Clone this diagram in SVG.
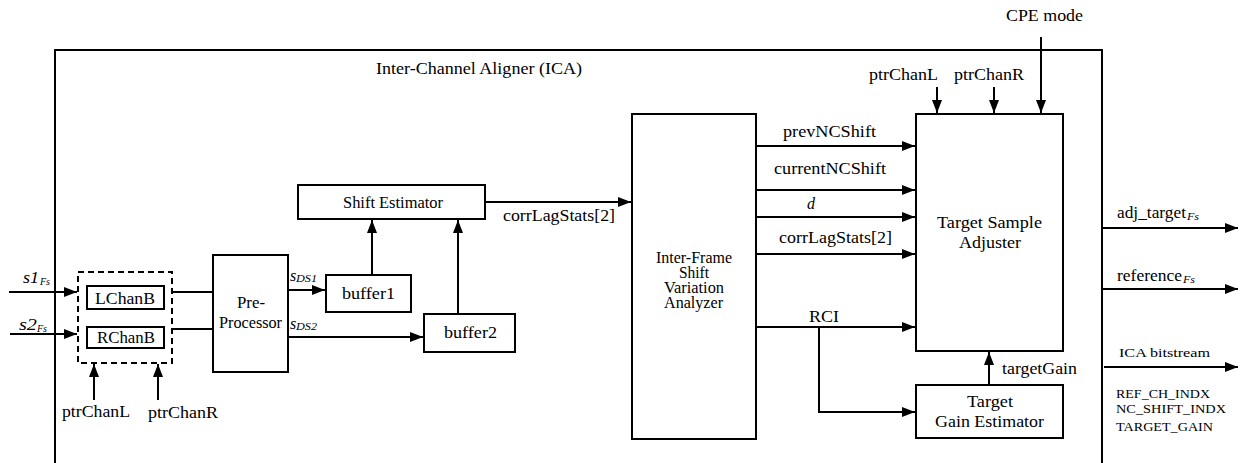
<svg xmlns="http://www.w3.org/2000/svg" width="1242" height="463" viewBox="0 0 1242 463">
<style>
text{font-family:'Liberation Serif','Times New Roman',serif;font-size:16px;fill:#000}
.sm{font-size:12px}
.box{fill:#fff;stroke:#000;stroke-width:2}
.ln{fill:none;stroke:#000;stroke-width:2}
.ar{fill:none;stroke:#000;stroke-width:2;marker-end:url(#ah)}
.it{font-style:italic}
.sub{font-size:10px;font-style:italic}
</style>
<defs>
<marker id="ah" viewBox="0 0 13 10" refX="13" refY="5" markerWidth="13" markerHeight="10" markerUnits="userSpaceOnUse" orient="auto">
<path d="M0,0 L13,5 L0,10 Z" fill="#000"/>
</marker>
</defs>
<rect width="1242" height="463" fill="#fff"/>
<g id="ica">
<path class="ln" d="M55,463 V50 H1102 V463"/>
<text x="376" y="74" textLength="206" lengthAdjust="spacingAndGlyphs">Inter-Channel Aligner (ICA)</text>
</g>
<g id="chanb">
<rect x="78" y="272" width="94" height="91" fill="none" stroke="#000" stroke-width="2" stroke-dasharray="6,4"/>
</g>
<g id="lchanb"><rect class="box" x="87" y="286" width="77" height="23"/><text x="95" y="304" font-size="17" textLength="60" lengthAdjust="spacingAndGlyphs">LChanB</text></g>
<g id="rchanb"><rect class="box" x="87" y="327" width="77" height="21"/><text x="97" y="343" font-size="17" textLength="58" lengthAdjust="spacingAndGlyphs">RChanB</text></g>
<g id="pre"><rect class="box" x="213" y="255" width="75" height="117"/><text x="237" y="308" textLength="28" lengthAdjust="spacingAndGlyphs">Pre-</text><text x="219" y="328" textLength="63" lengthAdjust="spacingAndGlyphs">Processor</text></g>
<g id="shift"><rect class="box" x="298" y="185" width="187" height="34"/><text x="343" y="208" textLength="100" lengthAdjust="spacingAndGlyphs">Shift Estimator</text></g>
<g id="buffer1"><rect class="box" x="326" y="275" width="85" height="37"/><text x="342" y="299" font-size="17" textLength="53" lengthAdjust="spacingAndGlyphs">buffer1</text></g>
<g id="buffer2"><rect class="box" x="424" y="314" width="91" height="38"/><text x="444" y="338" font-size="17" textLength="53" lengthAdjust="spacingAndGlyphs">buffer2</text></g>
<g id="isva"><rect class="box" x="632" y="114" width="124" height="325"/>
<text x="656" y="263" font-size="15" textLength="76" lengthAdjust="spacingAndGlyphs">Inter-Frame</text>
<text x="679" y="278" font-size="15" textLength="30" lengthAdjust="spacingAndGlyphs">Shift</text>
<text x="664" y="293" font-size="15" textLength="60" lengthAdjust="spacingAndGlyphs">Variation</text>
<text x="664" y="308" font-size="15" textLength="59" lengthAdjust="spacingAndGlyphs">Analyzer</text></g>
<g id="tsa"><rect class="box" x="916" y="114" width="147" height="237"/><text x="937" y="228" font-size="17" textLength="105" lengthAdjust="spacingAndGlyphs">Target Sample</text><text x="959" y="248" font-size="17" textLength="62" lengthAdjust="spacingAndGlyphs">Adjuster</text></g>
<g id="tge"><rect class="box" x="916" y="385" width="147" height="53"/><text x="967" y="407" font-size="17" textLength="46" lengthAdjust="spacingAndGlyphs">Target</text><text x="935" y="427" font-size="17" textLength="109" lengthAdjust="spacingAndGlyphs">Gain Estimator</text></g>
<g id="connectors">
<path class="ar" d="M9,292 H77"/>
<path class="ar" d="M10,334 H77"/>
<path class="ln" d="M172,292 H213 M172,329 H213"/>
<path class="ar" d="M94,400 V364"/>
<path class="ar" d="M158,400 V364"/>
<path class="ar" d="M288,290 H325"/>
<path class="ar" d="M288,337 H423"/>
<path class="ar" d="M372,275 V220"/>
<path class="ar" d="M458,314 V220"/>
<path class="ar" d="M485,202 H631"/>
<path class="ar" d="M756,146 H915"/>
<path class="ar" d="M756,190 H915"/>
<path class="ar" d="M756,217 H915"/>
<path class="ar" d="M756,254 H915"/>
<path class="ar" d="M756,327 H915"/>
<path class="ar" d="M819,327 V412 H915"/>
<path class="ar" d="M937,87 V113"/>
<path class="ar" d="M994,87 V113"/>
<path class="ar" d="M1041,37 V113"/>
<path class="ar" d="M989,385 V352"/>
<path class="ar" d="M1102,228 H1238"/>
<path class="ar" d="M1102,289 H1238"/>
<path class="ar" d="M1104,367 H1238"/>
</g>
<g id="labels">
<text x="23" y="283" class="it" font-size="18" textLength="16" lengthAdjust="spacingAndGlyphs">s1</text><text x="40" y="285" class="sub" textLength="10" lengthAdjust="spacingAndGlyphs">Fs</text>
<text x="19" y="330" class="it" font-size="18" textLength="18" lengthAdjust="spacingAndGlyphs">s2</text><text x="37" y="332" class="sub" textLength="10" lengthAdjust="spacingAndGlyphs">Fs</text>
<text x="62" y="417" font-size="17" textLength="68" lengthAdjust="spacingAndGlyphs">ptrChanL</text>
<text x="148" y="418" font-size="17" textLength="70" lengthAdjust="spacingAndGlyphs">ptrChanR</text>
<text x="290" y="281" class="it" font-size="17">s</text><text x="296" y="282" class="sub" textLength="21" lengthAdjust="spacingAndGlyphs">DS1</text>
<text x="290" y="329" class="it" font-size="17">s</text><text x="296" y="330" class="sub" textLength="21" lengthAdjust="spacingAndGlyphs">DS2</text>
<text x="503" y="221" textLength="112" lengthAdjust="spacingAndGlyphs">corrLagStats[2]</text>
<text x="783" y="137" textLength="93" lengthAdjust="spacingAndGlyphs">prevNCShift</text>
<text x="774" y="174" textLength="112" lengthAdjust="spacingAndGlyphs">currentNCShift</text>
<text x="807" y="209" class="it" font-size="17">d</text>
<text x="779" y="243" textLength="113" lengthAdjust="spacingAndGlyphs">corrLagStats[2]</text>
<text x="809" y="322" textLength="30" lengthAdjust="spacingAndGlyphs">RCI</text>
<text x="1006" y="21" textLength="77" lengthAdjust="spacingAndGlyphs">CPE mode</text>
<text x="869" y="80" textLength="69" lengthAdjust="spacingAndGlyphs">ptrChanL</text>
<text x="954" y="80" textLength="70" lengthAdjust="spacingAndGlyphs">ptrChanR</text>
<text x="1002" y="374" textLength="75" lengthAdjust="spacingAndGlyphs">targetGain</text>
<text x="1117" y="218" textLength="69" lengthAdjust="spacingAndGlyphs">adj_target</text><text x="1187" y="220" class="sub" textLength="12" lengthAdjust="spacingAndGlyphs">Fs</text>
<text x="1117" y="281" textLength="65" lengthAdjust="spacingAndGlyphs">reference</text><text x="1183" y="283" class="sub" textLength="12" lengthAdjust="spacingAndGlyphs">Fs</text>
<text x="1119" y="357" class="sm" textLength="91" lengthAdjust="spacingAndGlyphs">ICA bitstream</text>
<text x="1116" y="398" class="sm" textLength="94" lengthAdjust="spacingAndGlyphs">REF_CH_INDX</text>
<text x="1116" y="413" class="sm" textLength="110" lengthAdjust="spacingAndGlyphs">NC_SHIFT_INDX</text>
<text x="1116" y="431" class="sm" textLength="97" lengthAdjust="spacingAndGlyphs">TARGET_GAIN</text>
</g>
</svg>
